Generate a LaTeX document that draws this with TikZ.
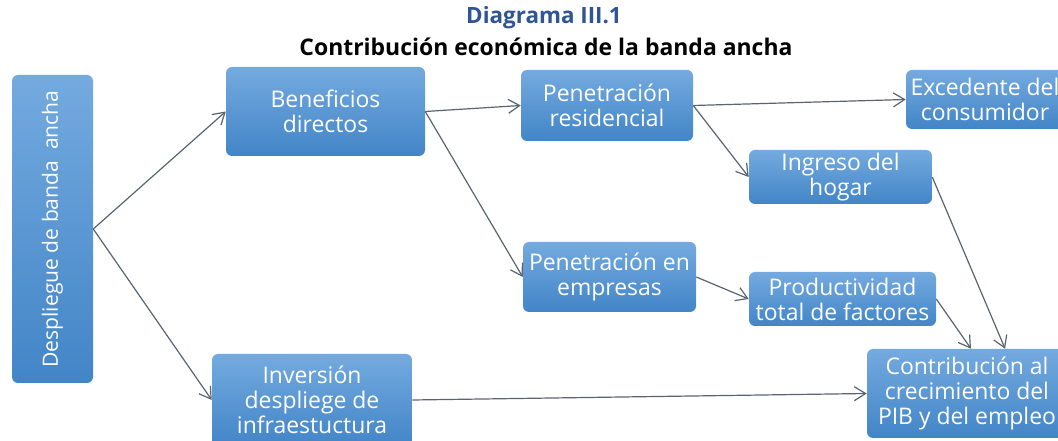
\documentclass[tikz,border=0pt]{standalone}
\usepackage{fontspec}
\setmainfont{Open Sans}
\usepackage{tikz}
\usetikzlibrary{arrows.meta, calc}
\definecolor{boxtop}{RGB}{116, 170, 223}
\definecolor{boxbot}{RGB}{66, 133, 199}
\definecolor{titleblue}{RGB}{47, 85, 151}
\definecolor{linkgray}{RGB}{90, 99, 113}

\begin{document}
\begin{tikzpicture}[x=0.75pt, y=-0.75pt,
  box/.style={rounded corners=4.5pt, top color=boxtop, bottom color=boxbot,
    text=white, align=center, inner sep=0pt,
    font=\fontsize{17.2}{18.75}\selectfont},
  link/.style={draw=linkgray, line width=0.9pt,
    -{Straight Barb[length=8.5pt, width=10.5pt]}}]

  \useasboundingbox (0, 0) rectangle (1058, 441);

  % title
  \node[text=titleblue, font=\fontsize{16.8}{20}\bfseries] (diag) at (544, 18) {Diagrama III.1};
  \node[font=\fontsize{17.2}{20}\bfseries] (titulo) at (546, 47) {Contribución económica de la banda ancha};

  % boxes
  \node[box, minimum width=60.75pt, minimum height=231pt] (despl) at (52.5, 229)
    {\rotatebox{90}{\fontsize{15.8}{18}\selectfont Despliegue de banda\ \ ancha}};
  \node[box, minimum width=149.25pt, minimum height=66.75pt] (benef) at (325.5, 111.5) {Beneficios\\directos};
  \node[box, minimum width=150pt, minimum height=69pt] (inver) at (312, 400) {Inversión\\despliege de\\infraestuctura};
  \node[box, minimum width=129pt, minimum height=53.25pt] (resid) at (607, 105.5) {Penetración\\residencial};
  \node[box, minimum width=129.75pt, minimum height=52.5pt] (empre) at (609.5, 277) {Penetración en\\empresas};
  \node[box, minimum width=118.5pt, minimum height=44.25pt] (exced) at (985, 99.5) {Excedente del\\consumidor};
  \node[box, minimum width=137.25pt, minimum height=40.5pt] (ingre) at (840.5, 177) {Ingreso del\\hogar};
  \node[box, minimum width=140.25pt, minimum height=40.5pt] (produ) at (842.5, 299) {Productividad\\total de factores};
  \node[box, minimum width=150pt, minimum height=66.75pt] (contr) at (967, 393.5) {Contribución al\\crecimiento del\\PIB y del empleo};

  % links
  \draw[link] (despl.east) -- (benef.west);
  \draw[link] (despl.east) -- (inver.west);
  \draw[link] (benef.east) -- (resid.west);
  \draw[link] (benef.east) -- (empre.west);
  \draw[link] (resid.east) -- (exced.west);
  \draw[link] (resid.east) -- (ingre.west);
  \draw[link] (empre.east) -- (produ.west);
  \draw[link] (ingre.east) -- ($(contr.north west)!0.69!(contr.north east)$);
  \draw[link] (produ.east) -- ($(contr.north west)!0.52!(contr.north east)$);
  \draw[link] (inver.east) -- (contr.west);

\end{tikzpicture}
\end{document}
